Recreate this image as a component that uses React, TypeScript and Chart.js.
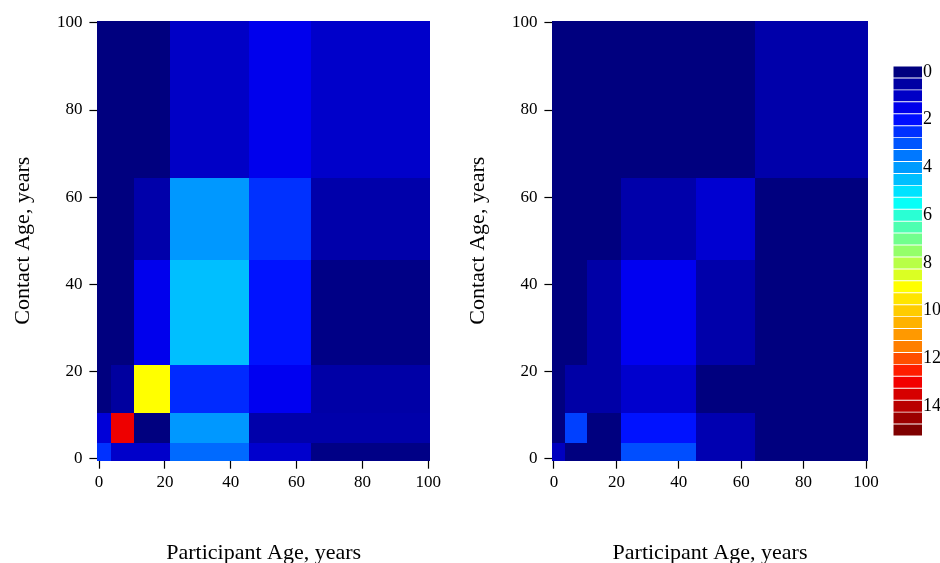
import { useEffect, useRef } from "react";
import { Chart, registerables } from "chart.js";

Chart.register(...registerables);

const SERIF = "'Liberation Serif', 'Times New Roman', serif";

// Age-group boundaries in years (shared by participant and contact axes)
const AGE_EDGES = [-0.5, 3.5, 10.5, 21.5, 45.5, 64.5, 100.5];
const AXIS_TICKS = [0, 20, 40, 60, 80, 100];

// Mean daily contacts: rows = contact age group (youngest first),
// columns = participant age group (youngest first)
const CONTACTS_LEFT = [
  [2.5, 1.05, 1.05, 3.3, 1.1, 0.1],
  [1.25, 13.1, 0.0, 3.95, 0.6, 0.6],
  [0.0, 0.45, 9.0, 2.4, 1.6, 0.55],
  [0.0, 0.0, 1.55, 4.5, 2.05, 0.1],
  [0.0, 0.0, 0.6, 3.95, 2.5, 0.6],
  [0.0, 0.0, 0.0, 1.0, 1.55, 1.05],
];

const CONTACTS_RIGHT = [
  [0.9, 0.0, 0.0, 2.9, 0.7, 0.0],
  [0.0, 2.7, 0.0, 2.05, 0.7, 0.0],
  [0.0, 0.55, 0.55, 1.1, 0.0, 0.0],
  [0.0, 0.0, 0.55, 1.6, 0.6, 0.0],
  [0.0, 0.0, 0.0, 0.6, 1.15, 0.0],
  [0.0, 0.0, 0.0, 0.0, 0.0, 0.6],
];

// Colour key levels (one swatch each) and the jet-style ramp behind them
const LEGEND_LEVELS = [
  0, 0.5, 1, 1.5, 2, 2.5, 3, 3.5, 4, 4.5, 5, 5.5, 6, 6.5, 7, 7.5,
  8, 8.5, 9, 9.5, 10, 10.5, 11, 11.5, 12, 12.5, 13, 13.5, 14, 14.5, 15,
];
const RAMP_STOPS = [0, 1.8, 3.6, 5.4, 7.2, 9, 11.5, 12.8, 15];
const RAMP_COLORS = [
  "#00007F", "#0000FF", "#007FFF", "#00FFFF", "#7FFF7F",
  "#FFFF00", "#FF7F00", "#FF0000", "#7F0000",
];

function hexToRgb(h: string): number[] {
  return [1, 3, 5].map((i) => parseInt(h.slice(i, i + 2), 16));
}

function colorFor(v: number): string {
  const n = RAMP_STOPS.length;
  if (v <= RAMP_STOPS[0]) return RAMP_COLORS[0];
  if (v >= RAMP_STOPS[n - 1]) return RAMP_COLORS[n - 1];
  let k = 0;
  while (v > RAMP_STOPS[k + 1]) k++;
  const t = (v - RAMP_STOPS[k]) / (RAMP_STOPS[k + 1] - RAMP_STOPS[k]);
  const a = hexToRgb(RAMP_COLORS[k]);
  const b = hexToRgb(RAMP_COLORS[k + 1]);
  const c = a.map((x, i) => Math.round(x + (b[i] - x) * t));
  return `rgb(${c[0]},${c[1]},${c[2]})`;
}

// Draws the age-group rectangles using the chart's own x/y scales
function makeHeatmapPlugin(matrix: number[][]) {
  return {
    id: "ageHeatmap",
    beforeDatasetsDraw(chart: any) {
      const { ctx } = chart;
      const xs = chart.scales.x;
      const ys = chart.scales.y;
      ctx.save();
      for (let r = 0; r < matrix.length; r++) {
        for (let c = 0; c < matrix[r].length; c++) {
          const x0 = Math.round(xs.getPixelForValue(AGE_EDGES[c]));
          const x1 = Math.round(xs.getPixelForValue(AGE_EDGES[c + 1]));
          const y0 = Math.round(ys.getPixelForValue(AGE_EDGES[r]));
          const y1 = Math.round(ys.getPixelForValue(AGE_EDGES[r + 1]));
          ctx.fillStyle = colorFor(matrix[r][c]);
          ctx.fillRect(x0, y1, x1 - x0, y0 - y1);
        }
      }
      ctx.restore();
    },
  };
}

const CANVAS_H = 566;
const PLOT_TOP = 20.7;
const PLOT_BOTTOM = 460.7;
const Y_AXIS_W = 97.4;

function ageAxis(title: string, fit: (s: any) => void, tickPad: number, titlePad: any) {
  return {
    type: "linear",
    min: -0.5,
    max: 100.5,
    afterBuildTicks: (s: any) => {
      s.ticks = AXIS_TICKS.map((v) => ({ value: v }));
    },
    ticks: {
      color: "#000",
      font: { family: SERIF, size: 17 },
      padding: tickPad,
      maxRotation: 0,
      callback: (v: any) => String(v),
    },
    grid: {
      drawOnChartArea: false,
      drawTicks: true,
      tickLength: 8,
      tickColor: "#000",
      tickWidth: 1.2,
    },
    border: { display: false },
    title: {
      display: true,
      text: title,
      color: "#000",
      font: { family: SERIF, size: 22 },
      padding: titlePad,
    },
    afterFit: fit,
  };
}

function heatmapConfig(matrix: number[][], plotWidth: number, canvasW: number): any {
  const centers: { x: number; y: number }[] = [];
  for (let r = 0; r < matrix.length; r++) {
    for (let c = 0; c < matrix[r].length; c++) {
      centers.push({
        x: (AGE_EDGES[c] + AGE_EDGES[c + 1]) / 2,
        y: (AGE_EDGES[r] + AGE_EDGES[r + 1]) / 2,
      });
    }
  }
  return {
    type: "scatter",
    data: { datasets: [{ data: centers, pointRadius: 0, showLine: false }] },
    plugins: [makeHeatmapPlugin(matrix)],
    options: {
      animation: false,
      responsive: false,
      devicePixelRatio: 1,
      events: [],
      layout: {
        padding: {
          top: PLOT_TOP,
          left: 0,
          bottom: 0,
          right: canvasW - Y_AXIS_W - plotWidth,
        },
      },
      plugins: { legend: { display: false }, tooltip: { enabled: false } },
      scales: {
        x: ageAxis(
          "Participant Age, years",
          (s: any) => {
            s.height = CANVAS_H - PLOT_BOTTOM;
          },
          4,
          { top: 0, bottom: 0 }
        ),
        y: ageAxis(
          "Contact Age, years",
          (s: any) => {
            s.width = Y_AXIS_W;
          },
          7,
          { top: 10, bottom: 0 }
        ),
      },
    },
  };
}

function legendConfig(): any {
  return {
    type: "bar",
    data: {
      labels: LEGEND_LEVELS.map((v) => String(v)),
      datasets: [
        {
          data: LEGEND_LEVELS.map(() => 1),
          backgroundColor: LEGEND_LEVELS.map((v) => colorFor(v)),
          borderWidth: 0,
          barPercentage: 0.92,
          categoryPercentage: 1,
        },
      ],
    },
    options: {
      animation: false,
      responsive: false,
      devicePixelRatio: 1,
      events: [],
      indexAxis: "y",
      layout: { padding: { top: 66, bottom: CANVAS_H - 436, left: 13.3, right: 0 } },
      plugins: { legend: { display: false }, tooltip: { enabled: false } },
      scales: {
        x: { display: false, min: 0, max: 1 },
        y: {
          type: "category",
          position: "right",
          grid: { display: false, drawTicks: false },
          border: { display: false },
          ticks: {
            autoSkip: false,
            color: "#000",
            padding: 1,
            font: { family: SERIF, size: 18 },
            callback: (_v: any, i: number) => {
              const lv = LEGEND_LEVELS[i];
              return lv % 2 === 0 && lv <= 14 ? String(lv) : "";
            },
          },
          afterFit: (s: any) => {
            s.width = 18;
          },
        },
      },
    },
  };
}

const LEFT_CANVAS = { left: 0, width: 470 };
const RIGHT_CANVAS = { left: 455, width: 470 };
const LEGEND_CANVAS = { left: 880, width: 60 };

export default function App() {
  const leftRef = useRef<HTMLCanvasElement>(null);
  const rightRef = useRef<HTMLCanvasElement>(null);
  const legendRef = useRef<HTMLCanvasElement>(null);

  useEffect(() => {
    const charts: Chart[] = [];
    if (leftRef.current) {
      charts.push(
        new Chart(leftRef.current, heatmapConfig(CONTACTS_LEFT, 332.5, LEFT_CANVAS.width))
      );
    }
    if (rightRef.current) {
      charts.push(
        new Chart(rightRef.current, heatmapConfig(CONTACTS_RIGHT, 315.2, RIGHT_CANVAS.width))
      );
    }
    if (legendRef.current) {
      charts.push(new Chart(legendRef.current, legendConfig()));
    }
    return () => charts.forEach((c) => c.destroy());
  }, []);

  const canvasStyle = (pos: { left: number; width: number }): any => ({
    position: "absolute",
    left: pos.left,
    top: 0,
    width: pos.width,
    height: CANVAS_H,
    display: "block",
  });

  return (
    <div
      style={{
        position: "absolute",
        left: 0,
        top: 0,
        width: 940,
        height: 563,
        overflow: "hidden",
        background: "#fff",
      }}
    >
      <canvas ref={leftRef} width={LEFT_CANVAS.width} height={CANVAS_H} style={canvasStyle(LEFT_CANVAS)} />
      <canvas ref={rightRef} width={RIGHT_CANVAS.width} height={CANVAS_H} style={canvasStyle(RIGHT_CANVAS)} />
      <canvas ref={legendRef} width={LEGEND_CANVAS.width} height={CANVAS_H} style={canvasStyle(LEGEND_CANVAS)} />
    </div>
  );
}
